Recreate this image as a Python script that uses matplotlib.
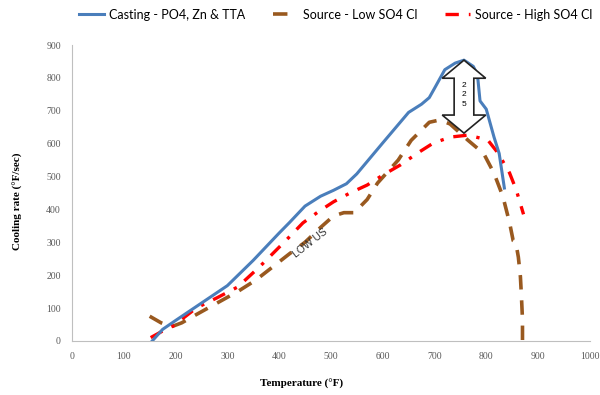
import numpy as np
import matplotlib.pyplot as plt
from matplotlib.patches import Polygon

# Casting - PO4, Zn & TTA
cast_t = [155, 175, 200, 250, 300, 350, 400, 420, 450, 480, 505, 530, 550, 600, 650, 675,
          690, 700, 720, 740, 757, 775, 783, 788, 800, 815, 825, 835]
cast_v = [0, 35, 62, 115, 168, 245, 328, 360, 410, 440, 458, 478, 508, 602, 695, 720,
          740, 768, 825, 845, 854, 835, 810, 730, 705, 620, 570, 465]

# Source - Low SO4 Cl
low_t = [150, 172, 192, 212, 240, 280, 320, 355, 390, 420, 450, 480, 505, 525, 545, 570,
         590, 630, 655, 690, 710, 730, 765, 795, 815, 832, 845, 852, 857, 862, 866, 868, 870, 870]
low_v = [75, 55, 43, 55, 80, 115, 150, 185, 228, 265, 300, 345, 380, 390, 390, 430,
         480, 550, 610, 665, 672, 660, 610, 570, 510, 440, 360, 305, 300, 255, 195, 135, 65, 0]

# Source - High SO4 Cl
high_t = [152, 175, 195, 240, 280, 320, 362, 414, 446, 475, 505, 537, 570, 601, 634, 667,
          698, 731, 765, 803, 823, 845, 858, 872]
high_v = [10, 30, 45, 100, 131, 164, 225, 307, 359, 392, 423, 450, 474, 505, 535, 571,
          602, 620, 626, 611, 571, 511, 459, 385]

# annotation: difference arrow
arrow_t = 757
arrow_top = 854
arrow_bottom = 632
arrow_label = "2\n2\n5"

fig = plt.figure(figsize=(6, 3.95), dpi=100)
ax = fig.add_axes([0.12, 0.137, 0.863, 0.749])

ax.plot(cast_t, cast_v, color="#4a7ebb", lw=2.2, label="Casting - PO4, Zn & TTA", zorder=3)
ax.plot(low_t, low_v, color="#99591f", lw=2.6, ls=(0, (4, 3)),
        label="Source - Low SO4 Cl", zorder=2)
ax.plot(high_t, high_v, color="#ff0000", lw=2.4, ls=(0, (4, 3, 1, 3)),
        label="Source - High SO4 Cl", zorder=2)

# fat double-headed arrow
hw, sw, hl = 42, 19, 55
pts = [
    (arrow_t, arrow_top), (arrow_t + hw, arrow_top - hl), (arrow_t + sw, arrow_top - hl),
    (arrow_t + sw, arrow_bottom + hl), (arrow_t + hw, arrow_bottom + hl), (arrow_t, arrow_bottom),
    (arrow_t - hw, arrow_bottom + hl), (arrow_t - sw, arrow_bottom + hl),
    (arrow_t - sw, arrow_top - hl), (arrow_t - hw, arrow_top - hl),
]
ax.add_patch(Polygon(pts, closed=True, facecolor="white", edgecolor="#222222", lw=1.2, zorder=5))
ax.text(arrow_t, (arrow_top + arrow_bottom) / 2 + 5, arrow_label, ha="center", va="center",
        fontsize=6, linespacing=1.5, family="Liberation Sans", zorder=6)

ax.text(460, 298, "LOW US", rotation=38, ha="center", va="center", fontsize=7.5,
        color="#333333", family="Liberation Sans")

ax.set_xlim(0, 1000)
ax.set_ylim(0, 900)
ax.set_xticks(np.arange(0, 1001, 100))
ax.set_yticks(np.arange(0, 901, 100))
for s in ["top", "right"]:
    ax.spines[s].set_visible(False)
for s in ["left", "bottom"]:
    ax.spines[s].set_color("#bfbfbf")
ax.tick_params(length=0, labelsize=7, labelcolor="#595959", pad=8)
for lab in ax.get_xticklabels() + ax.get_yticklabels():
    lab.set_family("Liberation Serif")

fig.text(0.503, 0.028, "Temperature (°F)", ha="center", va="center", fontsize=8,
         fontweight="bold", family="Liberation Serif")
fig.text(0.03, 0.49, "Cooling rate (°F/sec)", ha="center", va="center", fontsize=8,
         fontweight="bold", family="Liberation Serif", rotation=90)

fig.legend(loc="center", bbox_to_anchor=(0.56, 0.963), ncol=3, frameon=False,
           prop={"family": "Lato", "size": 9}, handlelength=2, columnspacing=2.2,
           handletextpad=0.4)

fig.savefig("out.png", dpi=100)
